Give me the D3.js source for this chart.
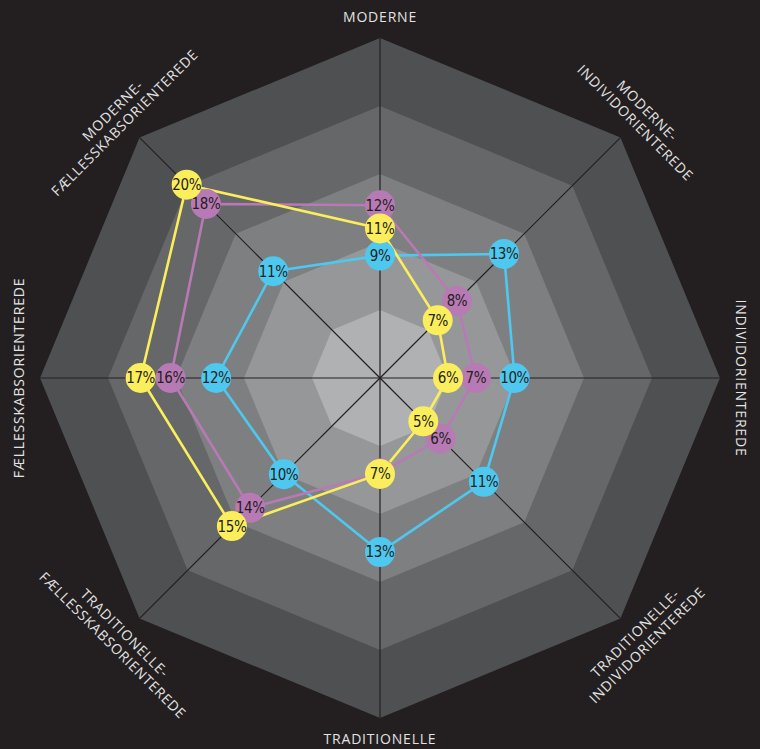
<!DOCTYPE html>
<html>
<head>
<meta charset="utf-8">
<script src="https://cdn.jsdelivr.net/npm/d3@7"></script>
<style>
  html, body { margin: 0; padding: 0; background: #231f20; }
  #content { width: 760px; height: 749px; }
</style>
</head>
<body>
<div id="content"></div>
<script>
// axes clockwise from the top, one array entry per text line
var axes = [
    ["MODERNE"],
    ["MODERNE-", "INDIVIDORIENTEREDE"],
    ["INDIVIDORIENTEREDE"],
    ["TRADITIONELLE-", "INDIVIDORIENTEREDE"],
    ["TRADITIONELLE"],
    ["TRADITIONELLE-", "FÆLLESSKABSORIENTEREDE"],
    ["FÆLLESSKABSORIENTEREDE"],
    ["MODERNE-", "FÆLLESSKABSORIENTEREDE"]
];
var ringLevels = [25, 20, 15, 10, 5];

// positions, labels as printed
var blueValues   = [9.0, 12.9, 9.9, 10.8, 12.8, 10.0, 12.05, 11.1];
var blueLabels   = ["9%", "13%", "10%", "11%", "13%", "10%", "12%", "11%"];
var purpleValues = [12.7, 8.0, 7.05, 6.3, 7.0, 13.5, 15.4, 18.1];
var purpleLabels = ["12%", "8%", "7%", "6%", "7%", "14%", "16%", "18%"];
var yellowValues = [11.0, 6.0, 5.0, 4.5, 7.05, 15.4, 17.6, 20.1];
var yellowLabels = ["11%", "7%", "6%", "5%", "7%", "15%", "17%", "20%"];

var svg = d3.select("#content").append("svg").attr("width", 760).attr("height", 749),
    cx = 380, cy = 378;

var r = d3.scaleLinear().domain([0, 25]).range([0, 340]);
var angle = d3.scaleLinear().domain([0, axes.length]).range([0, 2 * Math.PI]);
var ringColor = d3.scaleOrdinal()
    .domain(ringLevels)
    .range(["#4f5052", "#666769", "#7e7f81", "#969799", "#b0b1b3"]);

var g = svg.append("g").attr("transform", "translate(" + cx + "," + cy + ")");

var octagon = d3.lineRadial()
    .angle(function(d, i) { return angle(i); })
    .radius(function(d) { return r(d); })
    .curve(d3.curveLinearClosed);

// rings, outer first
g.selectAll(".ring")
    .data(ringLevels)
    .enter().append("path")
    .attr("class", "ring")
    .attr("d", function(lv) { return octagon(axes.map(function() { return lv; })); })
    .attr("fill", function(lv) { return ringColor(lv); });

// spokes
g.selectAll(".spoke")
    .data(axes)
    .enter().append("line")
    .attr("class", "spoke")
    .attr("x1", 0).attr("y1", 0)
    .attr("x2", function(d, i) { return d3.pointRadial(angle(i), r(25))[0]; })
    .attr("y2", function(d, i) { return d3.pointRadial(angle(i), r(25))[1]; })
    .attr("stroke", "#231f20")
    .attr("stroke-width", 1.2);

// axis labels, turned along the rim
var lh = 17;
var labels = g.selectAll(".axis-label")
    .data(axes)
    .enter().append("text")
    .attr("class", "axis-label")
    .attr("transform", function(d, i) {
        var deg = i * 360 / axes.length,
            rot = deg <= 90 ? deg : (deg < 270 ? deg - 180 : deg - 360),
            p = d3.pointRadial(angle(i), 361 + (d.length - 1) * lh / 2);
        return "translate(" + p[0] + "," + p[1] + ") rotate(" + rot + ")";
    })
    .attr("text-anchor", "middle")
    .style("font", "14px 'Open Sans', sans-serif")
    .style("letter-spacing", "0.8px")
    .attr("fill", "#e2e2e2");

labels.selectAll("tspan")
    .data(function(d) { return d.map(function(t, j) { return {t: t, y: (j - (d.length - 1) / 2) * lh}; }); })
    .enter().append("tspan")
    .attr("x", 0)
    .attr("y", function(d) { return d.y; })
    .attr("dy", "0.35em")
    .text(function(d) { return d.t; });

var series = [
    {values: blueValues, labels: blueLabels, color: "#4ec8ef"},
    {values: purpleValues, labels: purpleLabels, color: "#b87ab5"},
    {values: yellowValues, labels: yellowLabels, color: "#fbee5c"}
];

g.selectAll(".series-line")
    .data(series)
    .enter().append("path")
    .attr("class", "series-line")
    .attr("d", function(s) { return octagon(s.values); })
    .attr("fill", "none")
    .attr("stroke", function(s) { return s.color; })
    .attr("stroke-width", 2.6)
    .attr("stroke-linejoin", "round");

var dots = g.selectAll(".series-dots")
    .data(series)
    .enter().append("g")
    .attr("class", "series-dots");

var dot = dots.selectAll(".dot")
    .data(function(s) { return s.values.map(function(v, i) { return {v: v, i: i, label: s.labels[i], color: s.color}; }); })
    .enter().append("g")
    .attr("class", "dot")
    .attr("transform", function(d) {
        var p = d3.pointRadial(angle(d.i), r(d.v));
        return "translate(" + p[0] + "," + p[1] + ")";
    });

dot.append("circle")
    .attr("r", 15)
    .attr("fill", function(d) { return d.color; });

dot.append("text")
    .attr("text-anchor", "middle")
    .attr("dy", "0.36em")
    .style("font", "15px 'Liberation Sans Narrow', 'DejaVu Sans Condensed', 'Roboto', sans-serif")
    .style("letter-spacing", "-0.4px")
    .attr("fill", "#231f20")
    .text(function(d) { return d.label; });
</script>
</body>
</html>
